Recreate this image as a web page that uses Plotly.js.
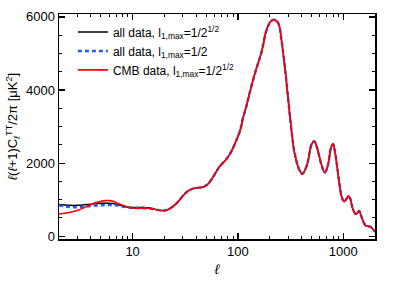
<!DOCTYPE html>
<html>
<head>
<meta charset="utf-8">
<script src="https://cdn.plot.ly/plotly-3.0.1.min.js"></script>
<style>html,body{margin:0;padding:0;background:#fff;}#chart{width:395px;height:282px;}</style>
</head>
<body>
<div id="chart"></div>
<script>
// multipole moments
var ell = [2,2.5,3,3.5,4,4.5,5,5.5,6,6.5,7,8,9,10,11,12,13,14,15,16,17,18,20,22,25,28,31,35,40,46,52,60,67,75,83,90,97,105,112,120,130,140,150,160,168,187,205,222,242,259,281,303,325,346,379,408,450,502,530,560,590,620,667,700,730,760,800,835,870,920,970,1019,1070,1119,1170,1230,1316,1370,1417,1480,1560,1640,1720,1800,1900,2000];

// shared high-ell part (l >= 22), same for all three
var high = [740,850,1000,1150,1270,1320,1340,1430,1690,1907,2060,2227,2420,2638,2900,3250,3550,3950,4300,4600,4850,5050,5650,5880,5920,5820,5360,4540,3620,2800,2255,1844,1707,1934,2529,2600,2450,2200,1960,1742,1850,2080,2400,2521,2300,1950,1420,1060,948,1020,1104,1010,750,603,650,693,550,380,282,272,263,200,126];

var lowAll  = [870,845,845,860,875,890,900,905,905,895,875,830,795,785,785,790,790,780,765,745,725,710,705];
var lowHalf = [850,800,795,810,825,840,850,855,858,855,845,815,790,778,772,770,768,762,752,740,725,712,705];
var lowCMB  = [610,650,710,790,860,920,955,975,975,955,920,850,800,770,765,770,772,765,752,738,722,710,700];

var allData  = lowAll.concat(high);
var halfData = lowHalf.concat(high);
var cmbData  = lowCMB.concat(high);

var labels = ['all data, l<sub>1,max</sub>=1/2<sup>1/2</sup>',
              'all data, l<sub>1,max</sub>=1/2',
              'CMB data, l<sub>1,max</sub>=1/2<sup>1/2</sup>'];

var traces = [
  {x: ell, y: allData, name: labels[0], legendgroup: 'a', mode: 'lines', line: {color: '#000000', width: 1.5, shape: 'spline'}},
  {x: ell, y: halfData, name: labels[1], legendgroup: 'b', mode: 'lines', line: {color: '#1f5cf0', width: 2.5, dash: '4px,3px', shape: 'spline'}},
  {x: ell, y: cmbData, name: labels[2], legendgroup: 'c', mode: 'lines', line: {color: '#ff0000', width: 1.6, shape: 'spline'}}
];

var font = 'Liberation Sans, Arial, Helvetica, sans-serif';
var layout = {
  width: 395, height: 282,
  margin: {l: 59, r: 20, t: 14, b: 43},
  paper_bgcolor: '#fff', plot_bgcolor: '#fff',
  font: {family: font, size: 13, color: '#000'},
  showlegend: true,
  legend: {x: 0.044, y: 0.985, xanchor: 'left', yanchor: 'top', bgcolor: 'rgba(0,0,0,0)',
           font: {family: font, size: 12, color: '#000'}, tracegroupgap: 0},
  xaxis: {
    type: 'log', range: [Math.log10(2), Math.log10(2000)],
    tickvals: [10, 100, 1000], ticktext: ['10', '100', '1000'],
    ticks: 'inside', ticklen: 6, tickwidth: 1.2, tickcolor: '#000',
    showline: true, linecolor: '#000', linewidth: 1.5, mirror: 'ticks',
    showgrid: false, zeroline: false,
    minor: {ticks: 'inside', ticklen: 3, tickwidth: 1, tickcolor: '#000', dtick: 'D1', showgrid: false},
    tickfont: {size: 13},
    title: {text: '<i>ℓ</i>', font: {size: 14}, standoff: 6}
  },
  yaxis: {
    range: [-75, 6080],
    tickvals: [0, 2000, 4000, 6000],
    ticks: 'inside', ticklen: 6, tickwidth: 1.2, tickcolor: '#000',
    showline: true, linecolor: '#000', linewidth: 1.5, mirror: 'ticks',
    showgrid: false, zeroline: false,
    minor: {ticks: 'inside', ticklen: 3, tickwidth: 1, tickcolor: '#000', dtick: 500, showgrid: false},
    tickfont: {size: 13},
    title: {text: '<i>ℓ</i>(<i>ℓ</i>+1)C<sub><i>ℓ</i></sub><sup>TT</sup>/2π [μK<sup>2</sup>]', font: {size: 13}, standoff: 5}
  }
};

Plotly.newPlot('chart', traces, layout, {displayModeBar: false, staticPlot: true});
</script>
</body>
</html>
